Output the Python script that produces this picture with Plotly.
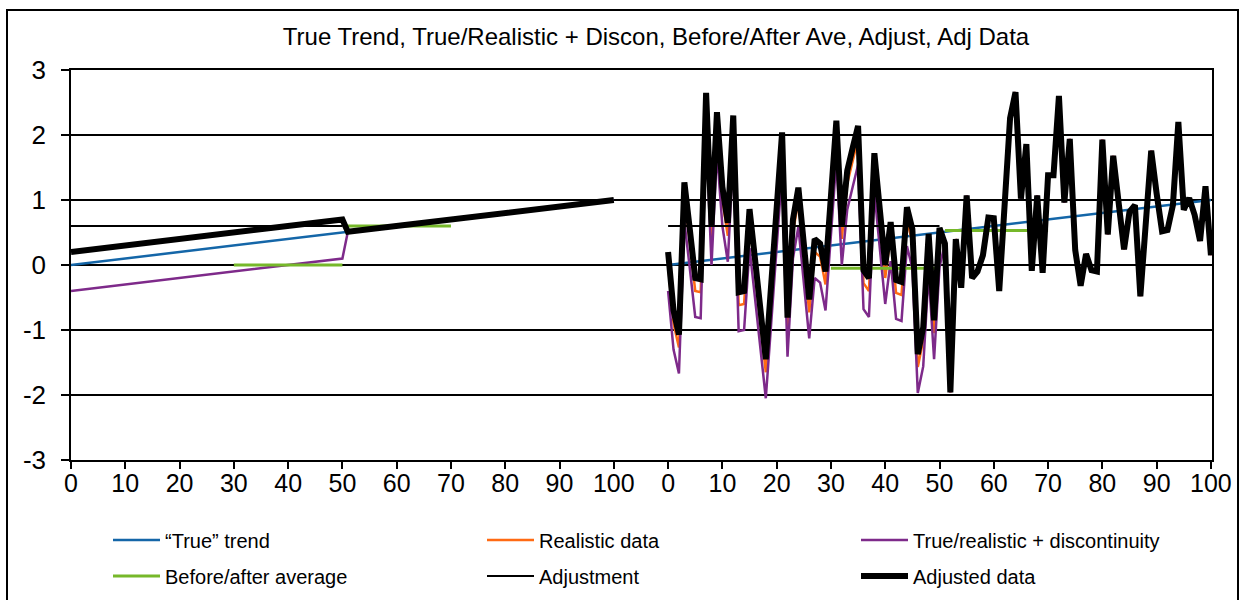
import plotly.graph_objects as go

# ---------------- data ----------------
title_text = "True Trend, True/Realistic + Discon, Before/After Ave, Adjust, Adj Data"
tick_labels = ["0", "10", "20", "30", "40", "50", "60", "70", "80", "90", "100"]
tick_steps = [0, 10, 20, 30, 40, 50, 60, 70, 80, 90, 100]

# Left panel (idealised, noise-free)
left_trend_x = [0, 100]
left_trend_y = [0.0, 1.0]
left_disc_x = [0, 50, 51, 100]
left_disc_y = [-0.4, 0.1, 0.51, 1.0]
left_adjd_x = [0, 50, 51, 100]
left_adjd_y = [0.2, 0.7, 0.51, 1.0]
left_avg_before_x = [30, 50]
left_avg_before_y = [0.0, 0.0]
left_avg_after_x = [51, 70]
left_avg_after_y = [0.6, 0.6]
left_adjust_x = [0, 50]
left_adjust_y = [0.6, 0.6]

# Right panel (realistic, noisy)
right_x = list(range(0, 101))
right_trend_x = [0, 100]
right_trend_y = [0.0, 1.0]
right_avg_before_x = [30, 50]
right_avg_before_y = [-0.05, -0.05]
right_avg_after_x = [51, 70]
right_avg_after_y = [0.53, 0.53]
right_adjust_x = [0, 50]
right_adjust_y = [0.6, 0.6]

right_realistic = [
    0.0, -0.9, -1.27, 1.07, 0.35, -0.4, -0.42, 2.45, 0.4, 2.15,
    1.0, 0.45, 2.1, -0.62, -0.6, 0.66, -0.1, -0.9, -1.65, -0.49,
    0.67, 1.84, -1.01, 0.5, 0.99, 0.13, -0.73, 0.2, 0.13, -0.3,
    0.86, 2.02, 0.4, 1.25, 1.6, 1.94, -0.28, -0.4, 1.52, 0.7,
    -0.2, 0.46, -0.43, -0.46, 0.69, 0.35, -1.57, -1.16, 0.28, -1.05,
    0.37, 0.33, -1.96, 0.4, -0.35, 1.07, -0.2, -0.1, 0.15, 0.73,
    0.72, -0.4, 0.93, 2.26, 2.66, 1.02, 1.86, -0.09, 1.07, -0.12,
    1.38, 1.38, 2.6, 0.96, 1.94, 0.23, -0.32, 0.17, -0.08, -0.1,
    1.93, 0.47, 1.68, 0.96, 0.24, 0.82, 0.92, -0.48, 0.8, 1.76,
    1.1, 0.52, 0.54, 0.92, 2.2, 0.85, 1.03, 0.77, 0.37, 1.21,
    0.15,
]
right_disc = [
    -0.4, -1.3, -1.67, 0.67, -0.05, -0.8, -0.82, 2.05, 0.0, 1.75,
    0.6, 0.05, 1.7, -1.02, -1.0, 0.26, -0.5, -1.3, -2.05, -0.89,
    0.27, 1.44, -1.41, 0.1, 0.59, -0.27, -1.13, -0.2, -0.27, -0.7,
    0.46, 1.62, 0.0, 0.85, 1.2, 1.54, -0.68, -0.8, 1.12, 0.3,
    -0.6, 0.06, -0.83, -0.86, 0.29, -0.05, -1.97, -1.56, -0.12, -1.45,
    -0.03, 0.33, -1.96, 0.4, -0.35, 1.07, -0.2, -0.1, 0.15, 0.73,
    0.72, -0.4, 0.93, 2.26, 2.66, 1.02, 1.86, -0.09, 1.07, -0.12,
    1.38, 1.38, 2.6, 0.96, 1.94, 0.23, -0.32, 0.17, -0.08, -0.1,
    1.93, 0.47, 1.68, 0.96, 0.24, 0.82, 0.92, -0.48, 0.8, 1.76,
    1.1, 0.52, 0.54, 0.92, 2.2, 0.85, 1.03, 0.77, 0.37, 1.21,
    0.15,
]
right_adjusted = [
    0.2, -0.7, -1.07, 1.27, 0.55, -0.2, -0.22, 2.65, 0.6, 2.35,
    1.2, 0.65, 2.3, -0.42, -0.4, 0.86, 0.1, -0.7, -1.45, -0.29,
    0.87, 2.04, -0.81, 0.7, 1.19, 0.33, -0.53, 0.4, 0.33, -0.1,
    1.06, 2.22, 0.6, 1.45, 1.8, 2.14, -0.08, -0.2, 1.72, 0.9,
    0.0, 0.66, -0.23, -0.26, 0.89, 0.55, -1.37, -0.96, 0.48, -0.85,
    0.57, 0.33, -1.96, 0.4, -0.35, 1.07, -0.2, -0.1, 0.15, 0.73,
    0.72, -0.4, 0.93, 2.26, 2.66, 1.02, 1.86, -0.09, 1.07, -0.12,
    1.38, 1.38, 2.6, 0.96, 1.94, 0.23, -0.32, 0.17, -0.08, -0.1,
    1.93, 0.47, 1.68, 0.96, 0.24, 0.82, 0.92, -0.48, 0.8, 1.76,
    1.1, 0.52, 0.54, 0.92, 2.2, 0.85, 1.03, 0.77, 0.37, 1.21,
    0.15,
]

# ---------------- layout helpers ----------------
RIGHT_OFFSET = 110   # category position where the second panel begins
FONT = "Liberation Sans, Arial, sans-serif"

C_BLUE = "#1466a8"
C_ORANGE = "#ff6a13"
C_PURPLE = "#7e2a8a"
C_GREEN = "#76b82a"
C_BLACK = "#000000"


def join(segments):
    xs, ys = [], []
    for k, (sx, sy, off) in enumerate(segments):
        if k:
            xs.append(None)
            ys.append(None)
        xs += [v + off for v in sx]
        ys += list(sy)
    return xs, ys


fig = go.Figure()

def add(name, segs, color, width, legend):
    x, y = join(segs)
    fig.add_trace(go.Scatter(x=x, y=y, mode="lines", name=name,
                             line=dict(color=color, width=width),
                             connectgaps=False, legend=legend,
                             hoverinfo="skip"))

add("\u201cTrue\u201d trend",
    [(left_trend_x, left_trend_y, 0), (right_trend_x, right_trend_y, RIGHT_OFFSET)],
    C_BLUE, 2.5, "legend")
add("Realistic data",
    [(right_x, right_realistic, RIGHT_OFFSET)],
    C_ORANGE, 2.5, "legend")
add("True/realistic + discontinuity",
    [(left_disc_x, left_disc_y, 0), (right_x, right_disc, RIGHT_OFFSET)],
    C_PURPLE, 2.5, "legend")
add("Before/after average",
    [(left_avg_before_x, left_avg_before_y, 0), (left_avg_after_x, left_avg_after_y, 0),
     (right_avg_before_x, right_avg_before_y, RIGHT_OFFSET),
     (right_avg_after_x, right_avg_after_y, RIGHT_OFFSET)],
    C_GREEN, 3, "legend2")
add("Adjustment",
    [(left_adjust_x, left_adjust_y, 0), (right_adjust_x, right_adjust_y, RIGHT_OFFSET)],
    C_BLACK, 2, "legend2")
add("Adjusted data",
    [(left_adjd_x, left_adjd_y, 0), (right_x, right_adjusted, RIGHT_OFFSET)],
    C_BLACK, 6, "legend2")

tickvals = tick_steps + [v + RIGHT_OFFSET for v in tick_steps]
ticktext = tick_labels + tick_labels

W, H = 1245, 600
ML, MR, MT, MB = 71, 33, 70, 140
PW = W - ML - MR
PH = H - MT - MB

legend_common = dict(orientation="h", xref="container", yref="container",
                     xanchor="left", yanchor="middle",
                     font=dict(family=FONT, size=20, color="black"),
                     entrywidth=312, entrywidthmode="pixels",
                     itemwidth=47, bgcolor="rgba(0,0,0,0)",
                     traceorder="normal")

fig.update_layout(
    width=W, height=H,
    margin=dict(l=ML, r=MR, t=MT, b=MB, autoexpand=False),
    paper_bgcolor="white", plot_bgcolor="white",
    font=dict(family=FONT, color="black"),
    title=dict(text=title_text, x=(656 - ML) / PW, xref="paper", xanchor="center",
               y=1 - 37 / H, yref="container", yanchor="middle",
               font=dict(family=FONT, size=24, color="black")),
    showlegend=True,
    legend=dict(x=108 / W, y=1 - 540 / H, **legend_common),
    legend2=dict(x=108 / W, y=1 - 576 / H, **legend_common),
    xaxis=dict(range=[0, 210.2], tickmode="array", tickvals=tickvals, ticktext=ticktext,
               showgrid=False, zeroline=False, showline=True, mirror=True,
               linecolor="black", linewidth=1.5, ticks="outside", ticklen=7,
               tickwidth=1.5, tickcolor="black", ticklabelstandoff=-7,
               tickfont=dict(family=FONT, size=25, color="black")),
    yaxis=dict(range=[-3, 3], tickmode="array", tickvals=[-3, -2, -1, 0, 1, 2, 3],
               ticktext=["-3", "-2", "-1", "0", "1", "2", "3"],
               showgrid=True, gridcolor="black", gridwidth=1.5, zeroline=False,
               showline=True, mirror=True, linecolor="black", linewidth=1.5,
               ticks="outside", ticklen=8, tickwidth=1.5, tickcolor="black",
               ticklabelstandoff=10,
               tickfont=dict(family=FONT, size=26, color="black")),
    shapes=[dict(type="rect", xref="paper", yref="paper",
                 x0=(7 - ML) / PW, x1=(1238 - ML) / PW,
                 y0=(H - MB - 603) / PH, y1=(H - MB - 10) / PH,
                 line=dict(color="black", width=2), fillcolor="rgba(0,0,0,0)",
                 layer="below")],
)

fig.write_html("out.html")
